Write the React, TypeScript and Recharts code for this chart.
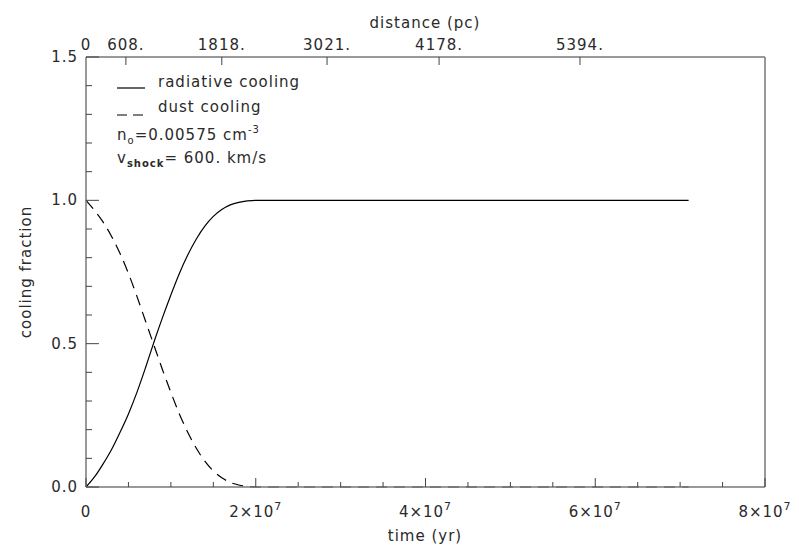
import React from 'react';
import { ComposedChart, Line, XAxis, YAxis } from 'recharts';

// time samples in Myr
const timeMyr = [0, 1, 2, 3, 4, 5, 6, 7, 8, 9, 10, 11, 12, 13, 14, 15, 16, 17, 18, 19, 20, 25, 30, 35, 40, 45, 50, 55, 60, 65, 70, 71];
const radiative = [0, 0.035, 0.08, 0.13, 0.19, 0.255, 0.33, 0.415, 0.505, 0.59, 0.67, 0.745, 0.81, 0.865, 0.91, 0.944, 0.968, 0.984, 0.993, 0.998, 1, 1, 1, 1, 1, 1, 1, 1, 1, 1, 1, 1];
const dust = [1, 0.965, 0.925, 0.875, 0.815, 0.745, 0.665, 0.58, 0.495, 0.41, 0.33, 0.255, 0.19, 0.135, 0.09, 0.056, 0.032, 0.016, 0.007, 0.002, 0, 0, 0, 0, 0, 0, 0, 0, 0, 0, 0, 0];

const bottomTicks = [0, 5e6, 1e7, 1.5e7, 2e7, 2.5e7, 3e7, 3.5e7, 4e7, 4.5e7, 5e7, 5.5e7, 6e7, 6.5e7, 7e7, 7.5e7, 8e7];
const bottomMajor = [0, 2e7, 4e7, 6e7, 8e7];
const topTickTimes = [0, 4.7e6, 1.6e7, 2.84e7, 4.16e7, 5.82e7];
const topTickLabels = ['0', '608.', '1818.', '3021.', '4178.', '5394.'];
const yTicks = [0, 0.1, 0.2, 0.3, 0.4, 0.5, 0.6, 0.7, 0.8, 0.9, 1.0, 1.1, 1.2, 1.3, 1.4, 1.5];
const yMajor = [0, 0.5, 1.0, 1.5];

const data = timeMyr.map((t, i) => ({ t: t * 1e6, radiative: radiative[i], dust: dust[i] }));

const FONT = "'DejaVu Sans', sans-serif";
const TXT = '#2a2a2a';
const TICK = '#444';
const AXIS = '#777';

const txtProps = { fontFamily: FONT, fontSize: 15, letterSpacing: 1, fill: TXT };

const isMajorY = (v: number) => yMajor.some((m) => Math.abs(m - v) < 1e-6);

const BottomTick = (props: any) => {
  const { x, y, payload } = props;
  const v = payload.value;
  const major = bottomMajor.includes(v);
  return (
    <g>
      <line x1={x} x2={x} y1={y} y2={y - (major ? 9 : 5)} stroke={TICK} />
      {major && (
        <text x={x} y={y + 30} textAnchor="middle" {...txtProps}>
          {v === 0 ? (
            '0'
          ) : (
            <>
              <tspan>{v / 1e7}×10</tspan>
              <tspan dy={-7} fontSize={11}>7</tspan>
            </>
          )}
        </text>
      )}
    </g>
  );
};

const TopTick = (props: any) => {
  const { x, y, index } = props;
  return (
    <g>
      {index > 0 && <line x1={x} x2={x} y1={y} y2={y + 8} stroke={TICK} />}
      <text x={x} y={y - 7} textAnchor="middle" {...txtProps}>
        {topTickLabels[index]}
      </text>
    </g>
  );
};

const LeftTick = (props: any) => {
  const { x, y, payload } = props;
  const v = payload.value;
  const major = isMajorY(v);
  return (
    <g>
      <line x1={x} x2={x + (major ? 13 : 6)} y1={y} y2={y} stroke={TICK} />
      {major && (
        <text x={x - 8} y={y + 5} textAnchor="end" {...txtProps}>
          {v.toFixed(1)}
        </text>
      )}
    </g>
  );
};

const RightTick = (props: any) => {
  const { x, y, payload } = props;
  const major = isMajorY(payload.value);
  return <line x1={x} x2={x - (major ? 13 : 6)} y1={y} y2={y} stroke={TICK} />;
};

export default function App() {
  return (
    <div style={{ position: 'relative', width: 799, height: 550, background: '#fff' }}>
      <style>{'body{margin:0}'}</style>
      <ComposedChart width={799} height={550} data={data} margin={{ top: 0, right: 0, bottom: 0, left: 0 }}>
        <XAxis
          xAxisId="bottom"
          dataKey="t"
          type="number"
          domain={[0, 8e7]}
          ticks={bottomTicks}
          interval={0}
          height={63}
          tickSize={0}
          tickMargin={0}
          tickLine={false}
          axisLine={{ stroke: AXIS, strokeWidth: 1.5 }}
          tick={<BottomTick />}
        />
        <XAxis
          xAxisId="top"
          orientation="top"
          dataKey="t"
          type="number"
          domain={[0, 8e7]}
          ticks={topTickTimes}
          interval={0}
          height={57}
          tickSize={0}
          tickMargin={0}
          tickLine={false}
          axisLine={{ stroke: AXIS, strokeWidth: 1.5 }}
          tick={<TopTick />}
        />
        <YAxis
          yAxisId="left"
          type="number"
          domain={[0, 1.5]}
          ticks={yTicks}
          interval={0}
          width={86}
          tickSize={0}
          tickMargin={0}
          tickLine={false}
          axisLine={{ stroke: AXIS, strokeWidth: 1.5 }}
          tick={<LeftTick />}
        />
        <YAxis
          yAxisId="right"
          orientation="right"
          type="number"
          domain={[0, 1.5]}
          ticks={yTicks}
          interval={0}
          width={34}
          tickSize={0}
          tickMargin={0}
          tickLine={false}
          axisLine={{ stroke: AXIS, strokeWidth: 1.5 }}
          tick={<RightTick />}
        />
        <Line
          xAxisId="bottom"
          yAxisId="left"
          dataKey="radiative"
          type="monotone"
          stroke="#000"
          strokeWidth={1.2}
          dot={false}
          isAnimationActive={false}
        />
        <Line
          xAxisId="bottom"
          yAxisId="left"
          dataKey="dust"
          type="monotone"
          stroke="#000"
          strokeWidth={1.2}
          strokeDasharray="11 7"
          dot={false}
          isAnimationActive={false}
        />
      </ComposedChart>
      <svg width={799} height={550} style={{ position: 'absolute', left: 0, top: 0, pointerEvents: 'none' }}>
        <text x={425} y={28} textAnchor="middle" {...txtProps}>distance (pc)</text>
        <text x={425} y={541} textAnchor="middle" {...txtProps}>time (yr)</text>
        <text x={0} y={0} textAnchor="middle" {...txtProps} transform="translate(31,272) rotate(-90)">cooling fraction</text>

        <line x1={117} x2={145} y1={88} y2={88} stroke="#000" strokeWidth={1.2} />
        <text x={158} y={87} {...txtProps}>radiative cooling</text>
        <line x1={117} x2={143} y1={115} y2={115} stroke="#000" strokeWidth={1.2} strokeDasharray="10 6" />
        <text x={158} y={112} {...txtProps}>dust cooling</text>
        <text x={117} y={140} {...txtProps}>
          <tspan>n</tspan>
          <tspan dy={4} fontSize={10}>o</tspan>
          <tspan dy={-4}>=0.00575 cm</tspan>
          <tspan dy={-7} fontSize={10}>-3</tspan>
        </text>
        <text x={117} y={163} {...txtProps}>
          <tspan>v</tspan>
          <tspan dy={4} fontSize={10} fontWeight="bold">shock</tspan>
          <tspan dy={-4}>= 600. km/s</tspan>
        </text>
      </svg>
    </div>
  );
}
